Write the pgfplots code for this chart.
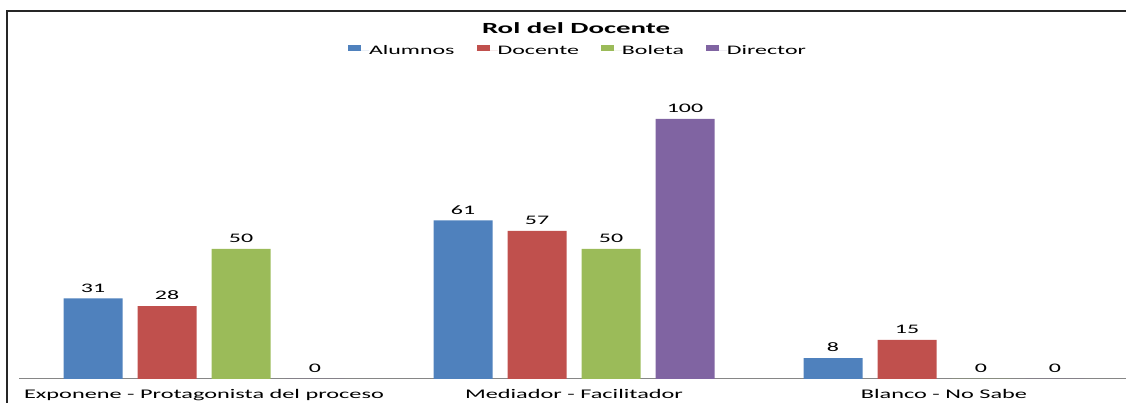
\documentclass[border=0pt]{standalone}
\usepackage{pgfplots}
\pgfplotsset{compat=1.18}
\usepackage{fontspec}
\setmainfont{Carlito}
\newfontfamily\lblfont[FakeStretch=1.84]{Carlito}
\newfontfamily\ttlfont[FakeStretch=1.86]{Carlito Bold}

\definecolor{cAlu}{HTML}{4F81BD}
\definecolor{cDoc}{HTML}{C0504D}
\definecolor{cBol}{HTML}{9BBB59}
\definecolor{cDir}{HTML}{8064A2}
\definecolor{axgray}{HTML}{868686}

\begin{document}
\begin{tikzpicture}
\useasboundingbox (0,0) rectangle (1126pt,403pt);
\clip (0,0) rectangle (1126pt,403pt);
\begin{axis}[
    at={(19pt,24pt)}, anchor=south west,
    x=370pt, y=2.6pt,
    xmin=-0.5, xmax=2.5, ymin=0, ymax=130,
    ybar=15pt, bar width=59pt,
    axis x line*=bottom, axis y line=none,
    x axis line style={draw=axgray, line width=1pt},
    xtick={0,1,2},
    xticklabels={Exponene - Protagonista del proceso, Mediador - Facilitador, Blanco - No Sabe},
    major tick length=0pt, ytick=\empty,
    xticklabel style={font=\lblfont\fontsize{13.2}{15}\selectfont, anchor=base, yshift=-19.5pt, inner sep=0pt},
    nodes near coords,
    every node near coord/.append style={font=\lblfont\fontsize{13}{15}\selectfont, anchor=south, inner sep=0pt, yshift=6pt, text=black},
    /pgf/number format/assume math mode=true,
    clip=false,
    sq legend/.style={legend image code/.code={
        \fill[##1, draw=none] (0pt,0pt) rectangle (13pt,5.7pt);
        \path (0pt,0pt) -- (21pt,0pt);}},
    legend columns=-1,
    legend style={draw=none, fill=none, at={(0.5027,0.972)}, anchor=center,
        font=\lblfont\fontsize{13}{15}\selectfont,
        nodes={inner sep=0pt, text=black},
        /tikz/every even column/.append style={column sep=22pt}},
]
\addplot[fill=cAlu, draw=none, sq legend] coordinates {(0,31) (1,61) (2,8)};
\addplot[fill=cDoc, draw=none, sq legend] coordinates {(0,28) (1,57) (2,15)};
\addplot[fill=cBol, draw=none, sq legend] coordinates {(0,50) (1,50) (2,0)};
\addplot[fill=cDir, draw=none, sq legend] coordinates {(0,0) (1,100) (2,0)};
\legend{Alumnos, Docente, Boleta, Director}
\end{axis}
\node[font=\ttlfont\fontsize{15.5}{18}\selectfont] at (576pt,375pt) {Rol del Docente};
\draw[line width=2pt, black!85] (7pt,-5pt) -- (7pt,391.5pt) -- (1140pt,391.5pt);
\end{tikzpicture}
\end{document}
